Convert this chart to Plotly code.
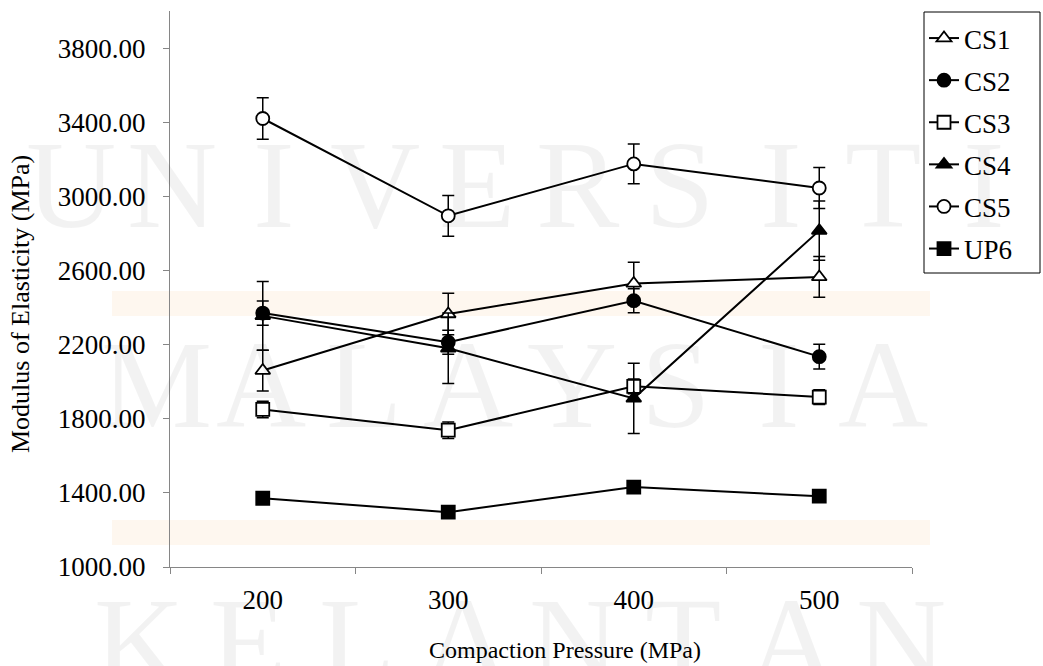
import plotly.graph_objects as go

pressure = ["200", "300", "400", "500"]

cs1 = [2060, 2365, 2530, 2565]
cs1_err = [110, 112, 115, 110]
cs2 = [2370, 2213, 2437, 2135]
cs2_err = [65, 65, 65, 67]
cs3 = [1850, 1738, 1975, 1917]
cs3_err = [45, 45, 40, 40]
cs4 = [2355, 2180, 1910, 2815]
cs4_err = [185, 190, 190, 160]
cs5 = [3420, 2895, 3175, 3045]
cs5_err = [112, 110, 107, 110]
up6 = [1371, 1296, 1431, 1382]
up6_err = [15, 15, 15, 15]

series = [
    ("CS1", cs1, cs1_err, "triangle-up", "white"),
    ("CS2", cs2, cs2_err, "circle", "black"),
    ("CS3", cs3, cs3_err, "square", "white"),
    ("CS4", cs4, cs4_err, "triangle-up", "black"),
    ("CS5", cs5, cs5_err, "circle", "white"),
    ("UP6", up6, up6_err, "square", "black"),
]

FONT = "Liberation Serif, Times New Roman, serif"
FS = 27

fig = go.Figure()
for name, vals, errs, sym, fill in series:
    fig.add_trace(go.Scatter(
        x=pressure, y=vals, name=name, legendgroup=name,
        mode="lines+markers",
        line=dict(color="black", width=2),
        marker=dict(symbol=sym, size=13, color=fill,
                    line=dict(color="black", width=1.8)),
        error_y=dict(type="data", array=errs, visible=True,
                     color="black", thickness=1.5, width=6),
    ))

# faint watermark (pixel positions converted to paper coords)
L, W, B, H = 170, 742, 567, 556
wm_words = [
    ("UNIVERSITI", 185, 20, 1035),
    ("MALAYSIA", 385, 105, 935),
    ("KELANTAN", 642, 85, 955),
]
for word, ypx, x0, x1 in wm_words:
    n = len(word)
    step = (x1 - x0) / n
    for i, ch in enumerate(word):
        fig.add_annotation(
            x=(x0 + step * (i + 0.5) - L) / W, y=(B - ypx) / H,
            xref="paper", yref="paper",
            text=ch, showarrow=False, yanchor="middle", xanchor="center",
            font=dict(family=FONT, size=125, color="rgba(0,0,0,0.05)"),
        )
for y0, y1 in [(291, 316), (520, 545)]:
    fig.add_shape(type="rect", xref="paper", yref="paper",
                  x0=(112 - L) / W, x1=(930 - L) / W,
                  y0=(B - y1) / H, y1=(B - y0) / H,
                  fillcolor="rgba(250,200,150,0.15)", line_width=0, layer="below")

# legend frame
fig.add_shape(type="rect", xref="paper", yref="paper",
              x0=(924 - L) / W, x1=(1040 - L) / W,
              y0=(B - 273) / H, y1=(B - 12) / H,
              fillcolor="white", line=dict(color="black", width=1), layer="below")

# axis titles
fig.add_annotation(x=(565 - L) / W, y=(B - 650) / H, xref="paper", yref="paper",
                   text="Compaction Pressure (MPa)", showarrow=False,
                   xanchor="center", yanchor="middle",
                   font=dict(family=FONT, size=24, color="black"))
fig.add_annotation(x=(20 - L) / W, y=(B - 304) / H, xref="paper", yref="paper",
                   text="Modulus of Elasticity (MPa)", showarrow=False, textangle=-90,
                   xanchor="center", yanchor="middle",
                   font=dict(family=FONT, size=26, color="black"))

fig.update_layout(
    width=1043, height=666,
    margin=dict(l=170, r=131, t=11, b=99),
    plot_bgcolor="rgba(0,0,0,0)", paper_bgcolor="white",
    font=dict(family=FONT, size=FS, color="black"),
    showlegend=True,
    legend=dict(
        x=(924 - L) / W, y=(B - 14) / H, xanchor="left", yanchor="top",
        borderwidth=0, bgcolor="rgba(0,0,0,0)",
        font=dict(family=FONT, size=FS, color="black"),
        traceorder="grouped", tracegroupgap=4, itemwidth=30,
    ),
    xaxis=dict(
        type="category", range=[-0.5, 3.5], tickson="boundaries",
        ticks="outside", ticklen=6, tickcolor="#868686",
        showline=True, linecolor="#868686", linewidth=1.3,
        showgrid=False, zeroline=False, ticklabelstandoff=8,
        tickfont=dict(family=FONT, size=FS),
    ),
    yaxis=dict(
        range=[1000, 4000], tick0=1000, dtick=400, tickformat=".2f",
        ticks="outside", ticklen=6, tickcolor="#868686",
        showline=True, linecolor="#868686", linewidth=1.3,
        showgrid=False, zeroline=False, ticklabelstandoff=12,
        tickfont=dict(family=FONT, size=FS),
    ),
)

fig.write_html("out.html")
